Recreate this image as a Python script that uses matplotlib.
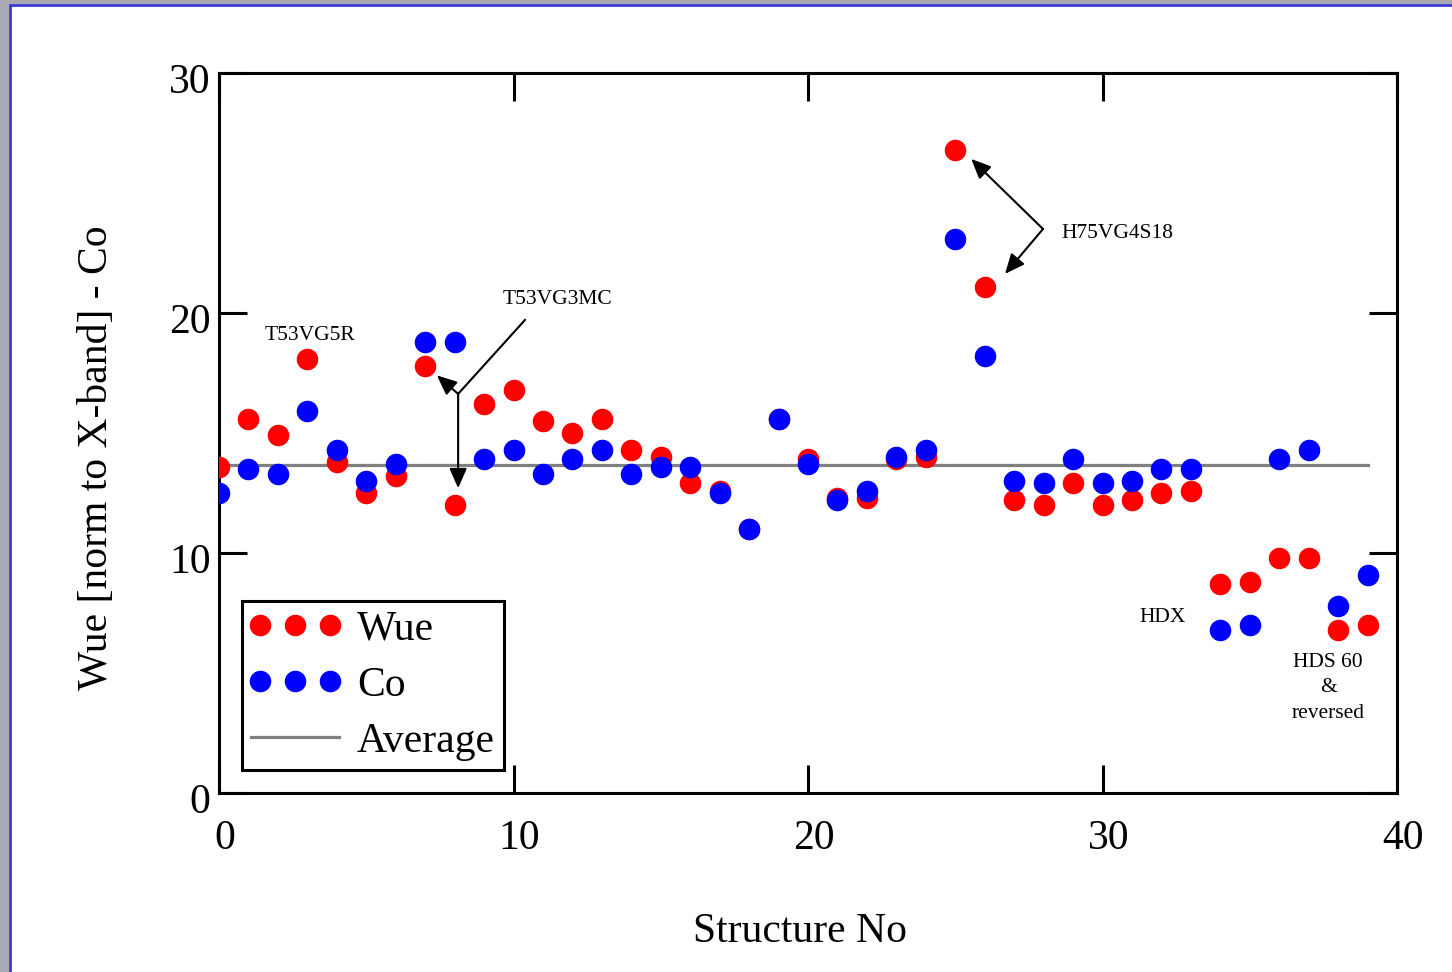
import matplotlib
matplotlib.use('Agg')
from matplotlib import pyplot as plt
from matplotlib.patches import Rectangle
from matplotlib.legend_handler import HandlerLine2D
import matplotlib.transforms as mtransforms

structNo = list(range(40))
wue = [13.6, 15.6, 14.9, 18.1, 13.8, 12.5, 13.2, 17.8, 12.0, 16.2,
       16.8, 15.5, 15.0, 15.6, 14.3, 14.0, 12.9, 12.6, 11.0, 15.6,
       13.9, 12.3, 12.3, 13.9, 14.0, 26.8, 21.1, 12.2, 12.0, 12.9,
       12.0, 12.2, 12.5, 12.6, 8.7, 8.8, 9.8, 9.8, 6.8, 7.0]
co = [12.5, 13.5, 13.3, 15.9, 14.3, 13.0, 13.7, 18.8, 18.8, 13.9,
      14.3, 13.3, 13.9, 14.3, 13.3, 13.6, 13.6, 12.5, 11.0, 15.6,
      13.7, 12.2, 12.6, 14.0, 14.3, 23.1, 18.2, 13.0, 12.9, 13.9,
      12.9, 13.0, 13.5, 13.5, 6.8, 7.0, 13.9, 14.3, 7.8, 9.1]
avgVal = 13.67
avgX = [0, 39]

ftSize = 30
annSize = 15.5
plt.rcParams['font.family'] = ['Liberation Serif', 'DejaVu Serif']

fig = plt.figure(figsize=(14.52, 9.72), dpi=100)
fig.patch.set_facecolor('#a9a9b3')
# white slide area with blue border
fig.patches.append(Rectangle((10 / 1452, -0.01), 1.02, 1 - 5 / 972 + 0.01,
                             transform=fig.transFigure, facecolor='white',
                             edgecolor='#3b3bd8', linewidth=2, zorder=-10))

ax = fig.add_axes([219 / 1452, 179 / 972, 1178 / 1452, 720 / 972])
ax.set_facecolor('white')

hAvg, = ax.plot(avgX, [avgVal, avgVal], color='#808080', linewidth=2.3,
                label='Average', zorder=2)
hWue, = ax.plot(structNo, wue, linestyle='none', marker='o', markersize=14.5,
                color='#ff0000', label='Wue', zorder=3)
hCo, = ax.plot(structNo, co, linestyle='none', marker='o', markersize=14.5,
               color='#0000ff', label='Co', zorder=4)

ax.set_xlim(0, 40)
ax.set_ylim(0, 30)
ax.set_xticks([0, 10, 20, 30, 40])
ax.set_yticks([0, 10, 20, 30])
ax.tick_params(direction='in', length=20, width=2.2, top=True, right=True,
               labelsize=ftSize)
ax.tick_params(axis='x', pad=19)
ax.tick_params(axis='y', pad=6)
for sp in ax.spines.values():
    sp.set_linewidth(2.2)

# small shifts of tick labels as in the original
off = mtransforms.ScaledTranslation(6 / 100, 0, fig.dpi_scale_trans)
for lb in ax.get_xticklabels():
    lb.set_transform(lb.get_transform() + off)
off = mtransforms.ScaledTranslation(0, -5 / 100, fig.dpi_scale_trans)
for lb in ax.get_yticklabels():
    lb.set_transform(lb.get_transform() + off)

fig.text(800 / 1452, 1 - 932 / 972, 'Structure No', fontsize=ftSize,
         ha='center', va='center')
fig.text(97 / 1452, 1 - 458 / 972, 'Wue [norm to X-band] - Co', fontsize=ftSize,
         ha='center', va='center', rotation=90)

# annotations
arrowKw = dict(arrowstyle='-|>,head_length=0.5,head_width=0.22', color='black',
               lw=1.5, mutation_scale=24, shrinkA=0, shrinkB=0)
ax.text(3.1, 19.05, 'T53VG5R', fontsize=annSize, ha='center', va='center')

ax.text(11.5, 20.55, 'T53VG3MC', fontsize=annSize, ha='center', va='center')
ax.plot([10.39, 8.12], [19.71, 16.63], color='black', lw=1.5)
ax.annotate('', xy=(7.4, 17.4), xytext=(8.12, 16.63), arrowprops=arrowKw)
ax.annotate('', xy=(8.12, 12.7), xytext=(8.12, 16.63), arrowprops=arrowKw)

ax.text(28.6, 23.32, 'H75VG4S18', fontsize=annSize, ha='left', va='center')
ax.annotate('', xy=(25.54, 26.42), xytext=(27.98, 23.5), arrowprops=arrowKw)
ax.annotate('', xy=(26.69, 21.63), xytext=(27.98, 23.5), arrowprops=arrowKw)

ax.text(32.05, 7.3, 'HDX', fontsize=annSize, ha='center', va='center')
ax.text(37.66, 4.38, 'HDS 60\n&\nreversed', fontsize=annSize, ha='center',
        va='center', linespacing=1.45)

hmap = {hWue: HandlerLine2D(numpoints=3, marker_pad=0.22),
        hCo: HandlerLine2D(numpoints=3, marker_pad=0.22),
        hAvg: HandlerLine2D(numpoints=1)}
leg = ax.legend(handles=[hWue, hCo, hAvg], handler_map=hmap, loc='lower left',
                bbox_to_anchor=(0.0195, 0.032),
                fontsize=ftSize, frameon=True, fancybox=False, edgecolor='black',
                framealpha=1, handlelength=2.11, handletextpad=0.43,
                labelspacing=0.42, borderpad=0.22, borderaxespad=0)
leg.get_frame().set_linewidth(2.2)

plt.savefig('out.png', dpi=100, facecolor=fig.get_facecolor())
